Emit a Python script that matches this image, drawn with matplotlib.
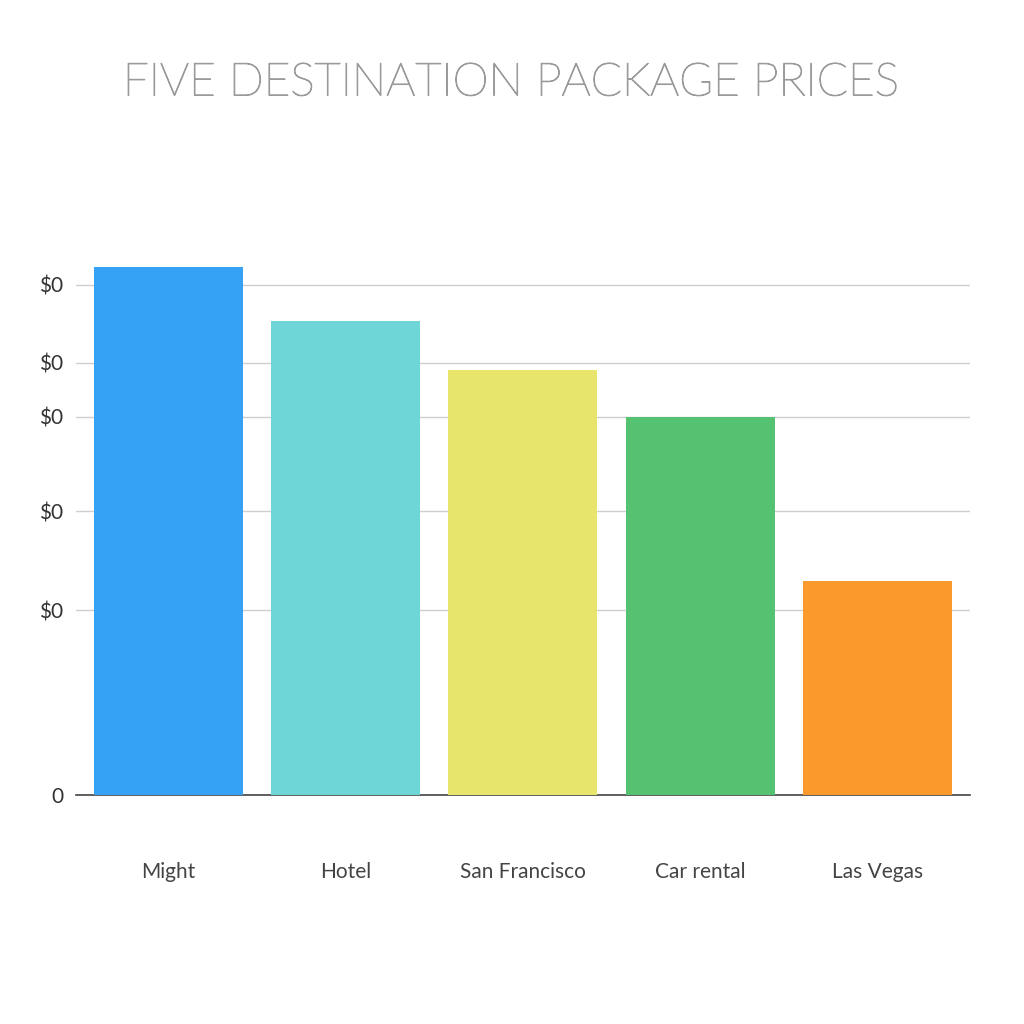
import matplotlib.pyplot as plt
import matplotlib.patheffects as pe

categories = ["Might", "Hotel", "San Francisco", "Car rental", "Las Vegas"]
prices = [528, 474, 425, 378, 214]
bar_colors = ["#36A2F5", "#6FD6D8", "#E8E56C", "#55C272", "#FA9A2D"]
tick_values = [0, 185, 284, 378, 432, 510]
tick_labels = ["0", "$0", "$0", "$0", "$0", "$0"]

plt.rcParams['font.family'] = ['Lato', 'DejaVu Sans']

fig = plt.figure(figsize=(10.24, 10.24), dpi=100)
ax = fig.add_axes([0.074, 0.2236, 0.873, 0.586])

x = range(len(categories))
ax.bar(x, prices, width=0.84, color=bar_colors, zorder=3)

ax.set_xlim(-0.52, 4.52)
ax.set_ylim(0, 600)
ax.set_yticks(tick_values)
ax.set_yticklabels(tick_labels, fontsize=15, color="#333333")
ax.set_xticks(list(x))
ax.set_xticklabels(categories, fontsize=15, color="#444444")
ax.tick_params(axis="y", length=0, pad=9)
ax.tick_params(axis="x", length=0, pad=48)
ax.grid(axis="y", color="#cfcfcf", linewidth=1, zorder=0)

for s in ["top", "right", "left"]:
    ax.spines[s].set_visible(False)
ax.spines["bottom"].set_color("#444444")
ax.spines["bottom"].set_linewidth(1.2)

title = fig.text(0.5, 0.919, "FIVE DESTINATION PACKAGE PRICES", ha="center", va="center",
                 fontsize=33, color="#9a9a9a", fontweight="light")
title.set_path_effects([pe.withStroke(linewidth=0.8, foreground="#9a9a9a")])

fig.savefig("out.png", dpi=100, facecolor="white")
